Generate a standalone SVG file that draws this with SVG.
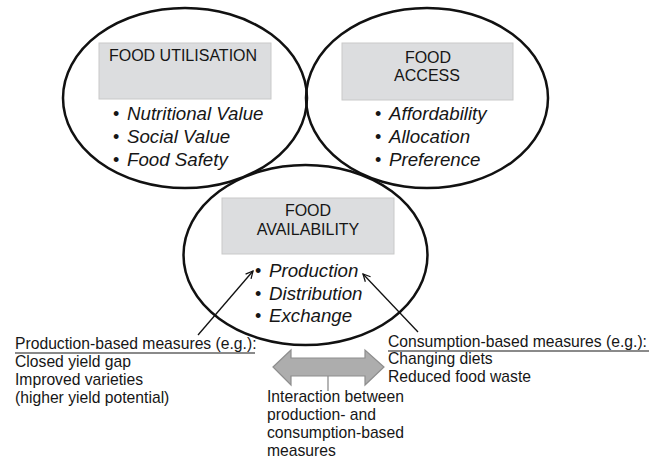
<svg xmlns="http://www.w3.org/2000/svg" width="661" height="464" viewBox="0 0 661 464">
<defs>
<marker id="ah" viewBox="0 0 10 10" refX="9" refY="5" markerWidth="9" markerHeight="9" markerUnits="userSpaceOnUse" orient="auto">
<path d="M1,1 L9,5 L1,9" fill="none" stroke="#111" stroke-width="1.4"/>
</marker>
<style>
.ell{fill:none;stroke:#111;stroke-width:2.5}
.box{fill:#dcdddf;stroke:#c9c9c9;stroke-width:1}
.hd{font-family:"Liberation Sans",Arial,sans-serif;font-size:16px;fill:#161616;text-anchor:middle}
.bl{font-family:"Liberation Sans",Arial,sans-serif;font-size:18.7px;font-style:italic;fill:#161616}
.dot{font-family:"Liberation Sans",Arial,sans-serif;font-size:18px;fill:#161616}
.tx{font-family:"Liberation Sans",Arial,sans-serif;font-size:15.7px;fill:#161616}
.ln{stroke:#111;stroke-width:1.3;fill:none}
</style>
</defs>
<rect width="661" height="464" fill="#fff"/>
<g id="food-utilisation">
<ellipse class="ell" cx="185" cy="98" rx="122" ry="90"/>
<rect class="box" x="99" y="43" width="172" height="56"/>
<text class="hd" x="183" y="61">FOOD UTILISATION</text>
<text class="dot" x="113" y="120">•</text><text class="bl" x="127" y="120">Nutritional Value</text>
<text class="dot" x="113" y="143">•</text><text class="bl" x="127" y="143">Social Value</text>
<text class="dot" x="113" y="166">•</text><text class="bl" x="127" y="166">Food Safety</text>
</g>
<g id="food-access">
<ellipse class="ell" cx="427" cy="98" rx="121" ry="90"/>
<rect class="box" x="342" y="43" width="171" height="57"/>
<text class="hd" x="428" y="63">FOOD</text>
<text class="hd" x="427" y="81">ACCESS</text>
<text class="dot" x="375" y="120">•</text><text class="bl" x="389" y="120">Affordability</text>
<text class="dot" x="375" y="143">•</text><text class="bl" x="389" y="143">Allocation</text>
<text class="dot" x="375" y="166">•</text><text class="bl" x="389" y="166">Preference</text>
</g>
<g id="food-availability">
<ellipse class="ell" cx="305.5" cy="255" rx="122" ry="90"/>
<rect class="box" x="222" y="198" width="172" height="56"/>
<text class="hd" x="308" y="216">FOOD</text>
<text class="hd" x="308" y="235">AVAILABILITY</text>
<text class="dot" x="255" y="277">•</text><text class="bl" x="269" y="277">Production</text>
<text class="dot" x="255" y="300">•</text><text class="bl" x="269" y="300">Distribution</text>
<text class="dot" x="255" y="322">•</text><text class="bl" x="269" y="322">Exchange</text>
</g>
<g id="production-measures">
<text class="tx" x="15" y="349">Production-based measures (e.g.):</text>
<line x1="15" y1="353" x2="255" y2="353" stroke="#161616" stroke-width="1.2"/>
<text class="tx" x="15" y="367">Closed yield gap</text>
<text class="tx" x="15" y="385">Improved varieties</text>
<text class="tx" x="15" y="403">(higher yield potential)</text>
</g>
<g id="consumption-measures">
<text class="tx" x="388" y="347">Consumption-based measures (e.g.):</text>
<line x1="388" y1="351" x2="649" y2="351" stroke="#161616" stroke-width="1.2"/>
<text class="tx" x="388" y="364">Changing diets</text>
<text class="tx" x="388" y="382">Reduced food waste</text>
</g>
<g id="interaction">
<path d="M273,367 L291,350 L291,358 L365,358 L365,350 L384,367 L365,385 L365,376 L291,376 L291,385 Z" fill="#adadad" stroke="#8e8e8e" stroke-width="1.2"/>
<text class="tx" x="267" y="402">Interaction between</text>
<text class="tx" x="267" y="420">production- and</text>
<text class="tx" x="267" y="438">consumption-based</text>
<text class="tx" x="267" y="456">measures</text>
</g>
<g id="connectors">
<line class="ln" x1="198" y1="335" x2="253" y2="271" marker-end="url(#ah)"/>
<line class="ln" x1="418" y1="332" x2="363" y2="274" marker-end="url(#ah)"/>
<line x1="328" y1="376" x2="328" y2="391" stroke="#8e8e8e" stroke-width="1.3"/>
</g>
</svg>
